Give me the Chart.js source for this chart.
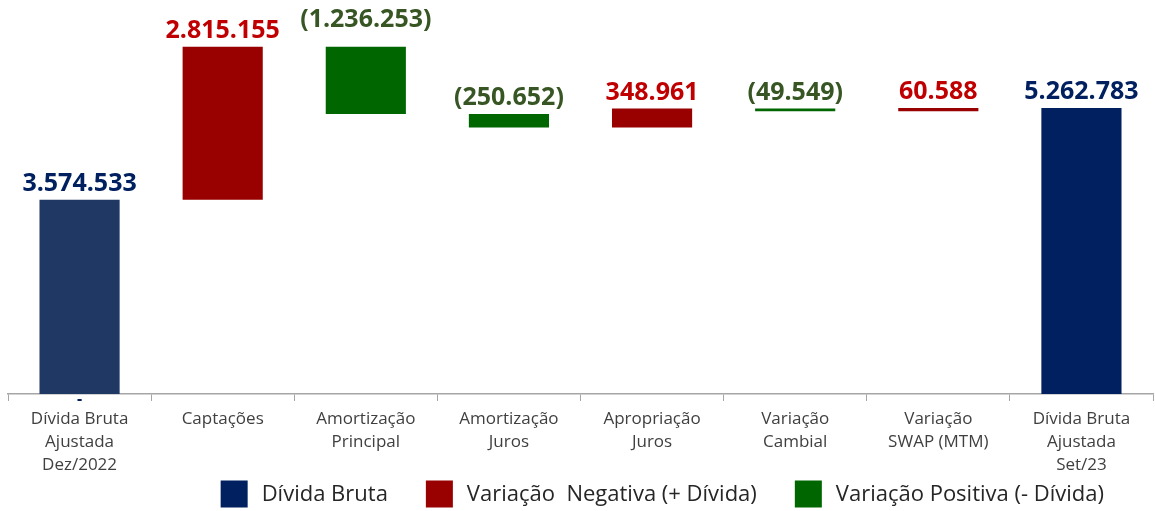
<!DOCTYPE html>
<html>
<head>
<meta charset="utf-8">
<script src="https://cdn.jsdelivr.net/npm/chart.js@4.4.0/dist/chart.umd.min.js"></script>
<style>
  html, body { margin: 0; padding: 0; background: #fff; }
  #wrap { width: 1155px; height: 511px; }
</style>
</head>
<body>
<div id="wrap"><canvas id="myChart"></canvas></div>
<script>
// categories (multi-line tick labels)
var categories = [
  ["Dívida Bruta", "Ajustada", "Dez/2022"],
  "Captações",
  ["Amortização", "Principal"],
  ["Amortização", "Juros"],
  ["Apropriação", "Juros"],
  ["Variação", "Cambial"],
  ["Variação", "SWAP (MTM)"],
  ["Dívida Bruta", "Ajustada", "Set/23"]
];
// values
var values = [3574533, 2815155, -1236253, -250652, 348961, -49549, 60588, 5262783];
// total = bar from zero, change = floating step
var stepTypes = ["total", "change", "change", "change", "change", "change", "change", "total"];

var seriesNames = ["Dívida Bruta", "Variação  Negativa (+ Dívida)", "Variação Positiva (- Dívida)"];

var NAVY = "#002060", NAVY_LIGHT = "#203864", RED = "#990000", GREEN = "#006600";
var LABEL_RED = "#C00000", LABEL_GREEN = "#375623";

// build floating ranges from a running total
var totalData = [], upData = [], downData = [];
var running = 0;
for (var i = 0; i < values.length; i++) {
  var v = values[i];
  totalData.push(null); upData.push(null); downData.push(null);
  if (stepTypes[i] == "total") {
    totalData[i] = [0, v];
    running = v;
  } else if (v >= 0) {
    upData[i] = [running, running + v];
    running += v;
  } else {
    downData[i] = [running + v, running];
    running += v;
  }
}

function fmt(v) {
  var s = Math.abs(v).toString().replace(/\B(?=(\d{3})+(?!\d))/g, ".");
  return v < 0 ? "(" + s + ")" : s;
}

// value labels above the bars
var valueLabels = {
  id: "valueLabels",
  afterDatasetsDraw: function(chart) {
    var ctx = chart.ctx;
    ctx.save();
    ctx.font = "bold 25px 'Open Sans'";
    ctx.textAlign = "center";
    ctx.textBaseline = "alphabetic";
    chart.data.datasets.forEach(function(ds, di) {
      var meta = chart.getDatasetMeta(di);
      meta.data.forEach(function(el, idx) {
        if (ds.data[idx] == null) return;
        var v = values[idx];
        var top = Math.min(el.y, el.base);
        if (stepTypes[idx] == "total") ctx.fillStyle = NAVY;
        else ctx.fillStyle = v < 0 ? LABEL_GREEN : LABEL_RED;
        var gap = (idx == 2) ? 20 : 9;
        ctx.fillText(fmt(v), el.x, top - gap);
        if (idx == 0) {
          ctx.font = "bold 16px 'Open Sans'";
          ctx.fillStyle = NAVY;
          ctx.fillText("-", el.x, el.base + 10);
          ctx.font = "bold 25px 'Open Sans'";
        }
      });
    });
    ctx.restore();
  }
};

// legend row at the bottom, right side (drawn from the datasets)
var bottomLegend = {
  id: "bottomLegend",
  afterDraw: function(chart) {
    var ctx = chart.ctx;
    var box = 27, textGap = 14, itemGap = 38, rightEnd = 1104, cy = 494;
    ctx.save();
    ctx.font = "22px 'Open Sans'";
    ctx.textBaseline = "middle";
    ctx.textAlign = "left";
    var ds = chart.data.datasets;
    var total = 0;
    ds.forEach(function(d, k) {
      total += box + textGap + ctx.measureText(d.label).width + (k > 0 ? itemGap : 0);
    });
    var x = rightEnd - total;
    ds.forEach(function(d, k) {
      ctx.fillStyle = k == 0 ? NAVY : d.backgroundColor;
      ctx.fillRect(x, cy - box / 2, box, box);
      ctx.fillStyle = "#262626";
      ctx.fillText(d.label, x + box + textGap, cy + 1);
      x += box + textGap + ctx.measureText(d.label).width + itemGap;
    });
    ctx.restore();
  }
};

var ctx = document.getElementById("myChart");
var chart = new Chart(ctx, {
  type: "bar",
  data: {
    labels: categories,
    datasets: [
      {
        label: seriesNames[0],
        data: totalData,
        backgroundColor: function(c) { return c.dataIndex === 0 ? NAVY_LIGHT : NAVY; },
        grouped: false
      },
      { label: seriesNames[1], data: upData, backgroundColor: RED, grouped: false },
      { label: seriesNames[2], data: downData, backgroundColor: GREEN, grouped: false }
    ]
  },
  options: {
    responsive: true,
    maintainAspectRatio: false,
    animation: false,
    barPercentage: 0.56,
    categoryPercentage: 1,
    layout: { padding: { left: 8, right: 2, top: 0, bottom: 37 } },
    plugins: {
      tooltip: { enabled: false },
      legend: { display: false }
    },
    scales: {
      x: {
        afterFit: function(scale) { scale.height = 80; },
        grid: { display: true, drawOnChartArea: false, drawTicks: true, tickLength: 7, color: "#a6a6a6", offset: true },
        border: { color: "#a6a6a6", width: 1.5 },
        ticks: { color: "#404040", padding: 7, maxRotation: 0, autoSkip: false, font: { family: "'Open Sans'", size: 17, lineHeight: 1.34 } }
      },
      y: {
        display: false,
        min: 0,
        max: 7250000
      }
    }
  },
  plugins: [valueLabels, bottomLegend]
});
</script>
</body>
</html>
